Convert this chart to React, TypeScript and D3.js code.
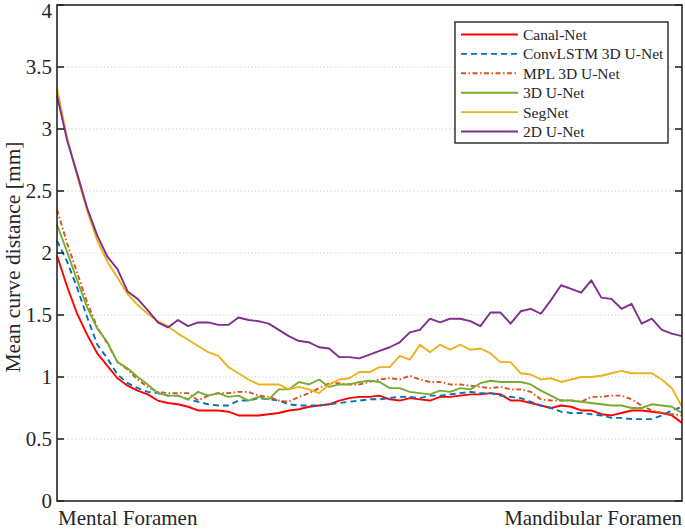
import { useEffect, useRef } from "react";
import * as d3 from "d3";

const yTicks = [0, 0.5, 1, 1.5, 2, 2.5, 3, 3.5, 4];
const yTickLabels = ["0", "0.5", "1", "1.5", "2", "2.5", "3", "3.5", "4"];
const xLabels = ["Mental Foramen", "Mandibular Foramen"];
const seriesNames = ["Canal-Net", "ConvLSTM 3D U-Net", "MPL 3D U-Net", "3D U-Net", "SegNet", "2D U-Net"];

const canalNet = [
  1.98, 1.73, 1.51, 1.34, 1.19, 1.09, 0.99, 0.93, 0.89, 0.86, 0.81, 0.79, 0.78, 0.76, 0.73, 0.73,
  0.73, 0.72, 0.69, 0.69, 0.69, 0.7, 0.71, 0.73, 0.74, 0.76, 0.77, 0.78, 0.81, 0.83, 0.84, 0.84,
  0.85, 0.82, 0.81, 0.83, 0.82, 0.81, 0.84, 0.84, 0.85, 0.86, 0.86, 0.87, 0.86, 0.81, 0.81, 0.79,
  0.77, 0.75, 0.77, 0.76, 0.73, 0.73, 0.7, 0.69, 0.71, 0.73, 0.73, 0.72, 0.71, 0.69, 0.63,
];
const convLstm = [
  2.1, 1.93, 1.72, 1.48, 1.26, 1.15, 1.02, 0.95, 0.91, 0.88, 0.87, 0.85, 0.85, 0.82, 0.8, 0.78,
  0.77, 0.77, 0.81, 0.81, 0.83, 0.82, 0.81, 0.78, 0.77, 0.77, 0.77, 0.78, 0.79, 0.8, 0.81, 0.82,
  0.82, 0.83, 0.84, 0.84, 0.83, 0.85, 0.85, 0.86, 0.87, 0.88, 0.87, 0.87, 0.85, 0.84, 0.83, 0.8,
  0.77, 0.75, 0.72, 0.71, 0.71, 0.7, 0.69, 0.67, 0.67, 0.66, 0.66, 0.66, 0.69, 0.73, 0.76,
];
const mpl = [
  2.35, 2.08, 1.84, 1.6, 1.4, 1.27, 1.12, 1.06, 0.98, 0.92, 0.88, 0.87, 0.87, 0.87, 0.81, 0.85,
  0.87, 0.87, 0.88, 0.88, 0.85, 0.84, 0.81, 0.8, 0.84, 0.87, 0.91, 0.95, 0.95, 0.94, 0.94, 0.96,
  0.98, 0.99, 0.98, 1.01, 0.98, 0.96, 0.96, 0.94, 0.94, 0.93, 0.92, 0.91, 0.92, 0.9, 0.9, 0.88,
  0.82, 0.81, 0.81, 0.81, 0.8, 0.84, 0.84, 0.85, 0.85, 0.82, 0.77, 0.73, 0.71, 0.7, 0.69,
];
const unet3d = [
  2.23, 2.01, 1.78, 1.56, 1.39, 1.28, 1.12, 1.07, 1.0, 0.94, 0.87, 0.85, 0.85, 0.82, 0.88, 0.85,
  0.87, 0.84, 0.85, 0.81, 0.84, 0.82, 0.9, 0.9, 0.96, 0.94, 0.98, 0.92, 0.94, 0.94, 0.96, 0.97,
  0.96, 0.91, 0.91, 0.88, 0.87, 0.86, 0.89, 0.88, 0.91, 0.9, 0.95, 0.97, 0.96, 0.96, 0.96, 0.94,
  0.89, 0.85, 0.81, 0.81, 0.8, 0.79, 0.78, 0.77, 0.77, 0.75, 0.75, 0.78, 0.77, 0.76, 0.71,
];
const segNet = [
  3.33, 2.93, 2.62, 2.34, 2.1, 1.93, 1.8, 1.67, 1.58, 1.51, 1.45, 1.41, 1.35, 1.3, 1.25, 1.2,
  1.17, 1.08, 1.03, 0.98, 0.94, 0.94, 0.94, 0.9, 0.92, 0.9, 0.87, 0.94, 0.98, 0.99, 1.04, 1.04,
  1.08, 1.08, 1.17, 1.14, 1.26, 1.2, 1.26, 1.22, 1.26, 1.22, 1.23, 1.19, 1.12, 1.12, 1.03, 1.02,
  0.98, 0.99, 0.96, 0.98, 1.0, 1.0, 1.01, 1.03, 1.05, 1.03, 1.03, 1.03, 0.98, 0.91, 0.76,
];
const unet2d = [
  3.27, 2.91, 2.64, 2.36, 2.14, 1.97, 1.87, 1.69, 1.63, 1.54, 1.44, 1.4, 1.46, 1.41, 1.44, 1.44,
  1.42, 1.42, 1.48, 1.46, 1.45, 1.43, 1.38, 1.33, 1.29, 1.28, 1.24, 1.23, 1.16, 1.16, 1.15, 1.18,
  1.21, 1.24, 1.28, 1.36, 1.38, 1.47, 1.44, 1.47, 1.47, 1.45, 1.41, 1.52, 1.52, 1.43, 1.53, 1.55,
  1.51, 1.62, 1.74, 1.71, 1.68, 1.78, 1.64, 1.63, 1.55, 1.59, 1.43, 1.47, 1.38, 1.35, 1.33,
];

const seriesData = [canalNet, convLstm, mpl, unet3d, segNet, unet2d];
const colors = ["#FF0000", "#0072BD", "#D95319", "#77AC30", "#EDB120", "#7E2F8E"];
const dashes = [null, "6 4", "5 2.5 1.5 2.5", null, null, null];

export default function App() {
  const svgRef = useRef<SVGSVGElement | null>(null);

  useEffect(() => {
    const svg = d3.select(svgRef.current);
    svg.selectAll("*").remove();
    const W = 685;
    const H = 530;
    const margin = { top: 5, right: 3, bottom: 29, left: 57 };
    const w = W - margin.left - margin.right;
    const h = H - margin.top - margin.bottom;
    const font = "'Liberation Serif', 'Times New Roman', serif";
    const axisColor = "#262626";

    svg.attr("width", W).attr("height", H).style("font-family", font);
    const g = svg.append("g").attr("transform", `translate(${margin.left},${margin.top})`);

    const n = canalNet.length;
    const x = d3.scaleLinear().domain([0, n - 1]).range([0, w]);
    const y = d3.scaleLinear().domain([0, 4]).range([h, 0]);

    // grid
    g.append("g")
      .selectAll("line")
      .data(yTicks.filter((t) => t > 0 && t < 4))
      .join("line")
      .attr("x1", 0)
      .attr("x2", w)
      .attr("y1", (d) => y(d))
      .attr("y2", (d) => y(d))
      .attr("stroke", "#c8c8c8")
      .attr("stroke-width", 1)
      .attr("stroke-dasharray", "1.2 2.4");

    const line = d3
      .line<number>()
      .x((_, i) => x(i))
      .y((d) => y(d));

    seriesData.forEach((s, i) => {
      const p = g
        .append("path")
        .attr("d", line(s) ?? "")
        .attr("fill", "none")
        .attr("stroke", colors[i])
        .attr("stroke-width", 1.9)
        .attr("stroke-linejoin", "round");
      if (dashes[i]) p.attr("stroke-dasharray", dashes[i]!);
    });

    // box + ticks
    g.append("rect")
      .attr("x", 0)
      .attr("y", 0)
      .attr("width", w)
      .attr("height", h)
      .attr("fill", "none")
      .attr("stroke", axisColor)
      .attr("stroke-width", 1.6);

    const ticks = g.append("g");
    yTicks.forEach((t, i) => {
      ticks.append("line").attr("x1", 0).attr("x2", 7).attr("y1", y(t)).attr("y2", y(t))
        .attr("stroke", axisColor).attr("stroke-width", 1.6);
      ticks.append("line").attr("x1", w).attr("x2", w - 7).attr("y1", y(t)).attr("y2", y(t))
        .attr("stroke", axisColor).attr("stroke-width", 1.6);
      ticks.append("text")
        .attr("x", -5)
        .attr("y", t === 4 ? y(t) + 6 : y(t))
        .attr("dy", "0.35em")
        .attr("text-anchor", "end")
        .attr("font-size", 21)
        .attr("fill", axisColor)
        .text(yTickLabels[i]);
    });

    g.append("text")
      .attr("transform", `translate(${-37},${h / 2 + 4}) rotate(-90)`)
      .attr("text-anchor", "middle")
      .attr("font-size", 21.5)
      .attr("fill", axisColor)
      .text("Mean curve distance [mm]");

    g.append("text")
      .attr("x", 1)
      .attr("y", h + 24)
      .attr("font-size", 21)
      .attr("fill", axisColor)
      .text(xLabels[0]);
    g.append("text")
      .attr("x", w)
      .attr("y", h + 24)
      .attr("text-anchor", "end")
      .attr("font-size", 21)
      .attr("fill", axisColor)
      .text(xLabels[1]);

    // legend
    const lg = svg.append("g").attr("transform", "translate(455,22)");
    lg.append("rect")
      .attr("width", 213)
      .attr("height", 121)
      .attr("fill", "#fff")
      .attr("stroke", axisColor)
      .attr("stroke-width", 1.4);
    seriesNames.forEach((name, i) => {
      const ry = 12.5 + i * 19.4;
      const l = lg.append("line")
        .attr("x1", 6)
        .attr("x2", 63)
        .attr("y1", ry)
        .attr("y2", ry)
        .attr("stroke", colors[i])
        .attr("stroke-width", 1.9);
      if (dashes[i]) l.attr("stroke-dasharray", dashes[i]!);
      lg.append("text")
        .attr("x", 68)
        .attr("y", ry)
        .attr("dy", "0.35em")
        .attr("font-size", 15.5)
        .attr("fill", axisColor)
        .text(name);
    });
  }, []);

  return (
    <svg
      ref={svgRef}
      style={{ position: "absolute", left: 0, top: 0, background: "#fff" }}
    />
  );
}
